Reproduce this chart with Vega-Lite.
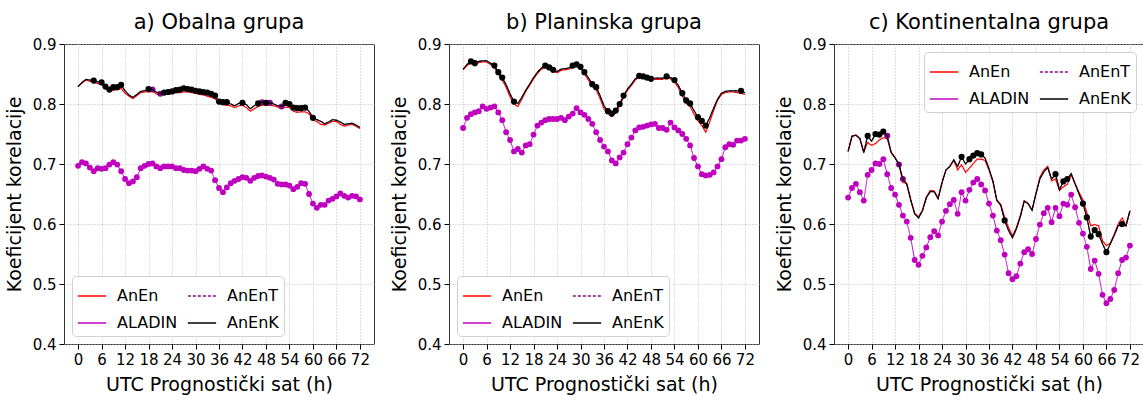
{
"$schema": "https://vega.github.io/schema/vega-lite/v6.json",
"padding": {"left": 4, "top": 11, "right": 0, "bottom": 0},
"background": "white",
"config": {
 "font": "DejaVu Sans",
 "view": {"stroke": "#333333", "strokeWidth": 1},
 "title": {"font": "DejaVu Sans", "fontSize": 21, "fontWeight": "normal", "color": "black", "offset": 4, "anchor": "middle"},
 "axis": {"labelFont": "DejaVu Sans", "titleFont": "DejaVu Sans", "labelFontSize": 15, "titleFontSize": 19, "titleFontWeight": "normal", "labelColor": "black", "titleColor": "black", "tickColor": "black", "tickSize": 5, "domain": false, "gridColor": "#b8b8b8", "gridDash": [1, 2], "gridWidth": 0.9, "labelPadding": 3, "titlePadding": 8},
 "legend": {"symbolType": "stroke", "columns": 2, "labelFont": "DejaVu Sans", "labelFontSize": 16, "labelColor": "black", "symbolSize": 800, "symbolStrokeWidth": 1.5, "strokeColor": "#d0d0d0", "fillColor": "white", "cornerRadius": 4, "padding": 5, "rowPadding": 4, "columnPadding": 6, "offset": 8, "labelOffset": 10}
},
"datasets": {
"a": [
{"h":0,"AnEnK":0.829,"AnEnT":0.829,"AnEn":0.829,"ALADIN":0.697,"sk":0,"st":0},
{"h":1,"AnEnK":0.836,"AnEnT":0.836,"AnEn":0.835,"ALADIN":0.703,"sk":0,"st":0},
{"h":2,"AnEnK":0.841,"AnEnT":0.841,"AnEn":0.840,"ALADIN":0.701,"sk":0,"st":0},
{"h":3,"AnEnK":0.840,"AnEnT":0.840,"AnEn":0.838,"ALADIN":0.694,"sk":0,"st":0},
{"h":4,"AnEnK":0.839,"AnEnT":0.839,"AnEn":0.836,"ALADIN":0.688,"sk":1,"st":0},
{"h":5,"AnEnK":0.837,"AnEnT":0.837,"AnEn":0.834,"ALADIN":0.693,"sk":0,"st":0},
{"h":6,"AnEnK":0.836,"AnEnT":0.836,"AnEn":0.833,"ALADIN":0.692,"sk":1,"st":0},
{"h":7,"AnEnK":0.829,"AnEnT":0.829,"AnEn":0.827,"ALADIN":0.693,"sk":1,"st":0},
{"h":8,"AnEnK":0.824,"AnEnT":0.824,"AnEn":0.821,"ALADIN":0.699,"sk":1,"st":0},
{"h":9,"AnEnK":0.828,"AnEnT":0.828,"AnEn":0.823,"ALADIN":0.703,"sk":1,"st":0},
{"h":10,"AnEnK":0.828,"AnEnT":0.828,"AnEn":0.824,"ALADIN":0.699,"sk":1,"st":0},
{"h":11,"AnEnK":0.832,"AnEnT":0.832,"AnEn":0.826,"ALADIN":0.688,"sk":1,"st":0},
{"h":12,"AnEnK":0.822,"AnEnT":0.822,"AnEn":0.818,"ALADIN":0.675,"sk":0,"st":0},
{"h":13,"AnEnK":0.815,"AnEnT":0.815,"AnEn":0.813,"ALADIN":0.668,"sk":0,"st":0},
{"h":14,"AnEnK":0.811,"AnEnT":0.811,"AnEn":0.809,"ALADIN":0.671,"sk":0,"st":0},
{"h":15,"AnEnK":0.816,"AnEnT":0.816,"AnEn":0.814,"ALADIN":0.678,"sk":0,"st":0},
{"h":16,"AnEnK":0.821,"AnEnT":0.821,"AnEn":0.819,"ALADIN":0.693,"sk":0,"st":0},
{"h":17,"AnEnK":0.822,"AnEnT":0.822,"AnEn":0.820,"ALADIN":0.697,"sk":0,"st":0},
{"h":18,"AnEnK":0.825,"AnEnT":0.825,"AnEn":0.820,"ALADIN":0.700,"sk":1,"st":0},
{"h":19,"AnEnK":0.824,"AnEnT":0.824,"AnEn":0.821,"ALADIN":0.701,"sk":0,"st":1},
{"h":20,"AnEnK":0.820,"AnEnT":0.820,"AnEn":0.817,"ALADIN":0.696,"sk":0,"st":0},
{"h":21,"AnEnK":0.817,"AnEnT":0.817,"AnEn":0.814,"ALADIN":0.693,"sk":0,"st":1},
{"h":22,"AnEnK":0.819,"AnEnT":0.819,"AnEn":0.817,"ALADIN":0.696,"sk":1,"st":0},
{"h":23,"AnEnK":0.820,"AnEnT":0.820,"AnEn":0.818,"ALADIN":0.696,"sk":1,"st":0},
{"h":24,"AnEnK":0.821,"AnEnT":0.821,"AnEn":0.818,"ALADIN":0.696,"sk":1,"st":0},
{"h":25,"AnEnK":0.823,"AnEnT":0.823,"AnEn":0.819,"ALADIN":0.693,"sk":1,"st":0},
{"h":26,"AnEnK":0.824,"AnEnT":0.824,"AnEn":0.819,"ALADIN":0.693,"sk":1,"st":0},
{"h":27,"AnEnK":0.826,"AnEnT":0.826,"AnEn":0.820,"ALADIN":0.690,"sk":1,"st":0},
{"h":28,"AnEnK":0.825,"AnEnT":0.825,"AnEn":0.820,"ALADIN":0.689,"sk":1,"st":0},
{"h":29,"AnEnK":0.824,"AnEnT":0.824,"AnEn":0.819,"ALADIN":0.689,"sk":1,"st":0},
{"h":30,"AnEnK":0.822,"AnEnT":0.822,"AnEn":0.818,"ALADIN":0.688,"sk":1,"st":0},
{"h":31,"AnEnK":0.821,"AnEnT":0.821,"AnEn":0.816,"ALADIN":0.692,"sk":1,"st":0},
{"h":32,"AnEnK":0.820,"AnEnT":0.820,"AnEn":0.815,"ALADIN":0.696,"sk":1,"st":0},
{"h":33,"AnEnK":0.819,"AnEnT":0.819,"AnEn":0.813,"ALADIN":0.692,"sk":1,"st":0},
{"h":34,"AnEnK":0.817,"AnEnT":0.817,"AnEn":0.811,"ALADIN":0.689,"sk":1,"st":0},
{"h":35,"AnEnK":0.814,"AnEnT":0.814,"AnEn":0.809,"ALADIN":0.673,"sk":1,"st":0},
{"h":36,"AnEnK":0.804,"AnEnT":0.804,"AnEn":0.801,"ALADIN":0.660,"sk":1,"st":0},
{"h":37,"AnEnK":0.803,"AnEnT":0.803,"AnEn":0.799,"ALADIN":0.653,"sk":1,"st":0},
{"h":38,"AnEnK":0.803,"AnEnT":0.803,"AnEn":0.798,"ALADIN":0.661,"sk":1,"st":0},
{"h":39,"AnEnK":0.800,"AnEnT":0.800,"AnEn":0.797,"ALADIN":0.668,"sk":0,"st":0},
{"h":40,"AnEnK":0.797,"AnEnT":0.797,"AnEn":0.794,"ALADIN":0.672,"sk":0,"st":0},
{"h":41,"AnEnK":0.801,"AnEnT":0.801,"AnEn":0.797,"ALADIN":0.675,"sk":0,"st":0},
{"h":42,"AnEnK":0.802,"AnEnT":0.802,"AnEn":0.798,"ALADIN":0.678,"sk":1,"st":0},
{"h":43,"AnEnK":0.799,"AnEnT":0.799,"AnEn":0.794,"ALADIN":0.677,"sk":0,"st":0},
{"h":44,"AnEnK":0.792,"AnEnT":0.792,"AnEn":0.788,"ALADIN":0.672,"sk":0,"st":0},
{"h":45,"AnEnK":0.797,"AnEnT":0.797,"AnEn":0.792,"ALADIN":0.677,"sk":0,"st":0},
{"h":46,"AnEnK":0.801,"AnEnT":0.801,"AnEn":0.796,"ALADIN":0.680,"sk":1,"st":0},
{"h":47,"AnEnK":0.803,"AnEnT":0.803,"AnEn":0.798,"ALADIN":0.681,"sk":0,"st":1},
{"h":48,"AnEnK":0.802,"AnEnT":0.802,"AnEn":0.798,"ALADIN":0.679,"sk":1,"st":0},
{"h":49,"AnEnK":0.802,"AnEnT":0.802,"AnEn":0.798,"ALADIN":0.677,"sk":0,"st":1},
{"h":50,"AnEnK":0.800,"AnEnT":0.800,"AnEn":0.797,"ALADIN":0.674,"sk":0,"st":0},
{"h":51,"AnEnK":0.797,"AnEnT":0.797,"AnEn":0.795,"ALADIN":0.667,"sk":0,"st":0},
{"h":52,"AnEnK":0.796,"AnEnT":0.796,"AnEn":0.793,"ALADIN":0.666,"sk":0,"st":1},
{"h":53,"AnEnK":0.802,"AnEnT":0.802,"AnEn":0.795,"ALADIN":0.666,"sk":1,"st":0},
{"h":54,"AnEnK":0.800,"AnEnT":0.800,"AnEn":0.794,"ALADIN":0.664,"sk":1,"st":0},
{"h":55,"AnEnK":0.794,"AnEnT":0.794,"AnEn":0.788,"ALADIN":0.658,"sk":1,"st":0},
{"h":56,"AnEnK":0.793,"AnEnT":0.793,"AnEn":0.786,"ALADIN":0.662,"sk":1,"st":0},
{"h":57,"AnEnK":0.793,"AnEnT":0.793,"AnEn":0.787,"ALADIN":0.668,"sk":1,"st":0},
{"h":58,"AnEnK":0.794,"AnEnT":0.794,"AnEn":0.787,"ALADIN":0.667,"sk":1,"st":0},
{"h":59,"AnEnK":0.788,"AnEnT":0.788,"AnEn":0.784,"ALADIN":0.650,"sk":0,"st":0},
{"h":60,"AnEnK":0.777,"AnEnT":0.777,"AnEn":0.773,"ALADIN":0.634,"sk":1,"st":0},
{"h":61,"AnEnK":0.774,"AnEnT":0.774,"AnEn":0.771,"ALADIN":0.627,"sk":0,"st":0},
{"h":62,"AnEnK":0.771,"AnEnT":0.771,"AnEn":0.766,"ALADIN":0.632,"sk":0,"st":0},
{"h":63,"AnEnK":0.767,"AnEnT":0.767,"AnEn":0.765,"ALADIN":0.632,"sk":0,"st":0},
{"h":64,"AnEnK":0.770,"AnEnT":0.770,"AnEn":0.768,"ALADIN":0.639,"sk":0,"st":0},
{"h":65,"AnEnK":0.774,"AnEnT":0.774,"AnEn":0.771,"ALADIN":0.642,"sk":0,"st":0},
{"h":66,"AnEnK":0.773,"AnEnT":0.773,"AnEn":0.771,"ALADIN":0.646,"sk":0,"st":0},
{"h":67,"AnEnK":0.770,"AnEnT":0.770,"AnEn":0.766,"ALADIN":0.651,"sk":0,"st":0},
{"h":68,"AnEnK":0.766,"AnEnT":0.766,"AnEn":0.763,"ALADIN":0.647,"sk":0,"st":0},
{"h":69,"AnEnK":0.767,"AnEnT":0.767,"AnEn":0.765,"ALADIN":0.644,"sk":0,"st":0},
{"h":70,"AnEnK":0.768,"AnEnT":0.768,"AnEn":0.766,"ALADIN":0.647,"sk":0,"st":0},
{"h":71,"AnEnK":0.765,"AnEnT":0.765,"AnEn":0.763,"ALADIN":0.646,"sk":0,"st":0},
{"h":72,"AnEnK":0.761,"AnEnT":0.761,"AnEn":0.759,"ALADIN":0.641,"sk":0,"st":0}
],
"b": [
{"h":0,"AnEnK":0.858,"AnEnT":0.858,"AnEn":0.857,"ALADIN":0.760,"sk":0,"st":0},
{"h":1,"AnEnK":0.866,"AnEnT":0.866,"AnEn":0.864,"ALADIN":0.777,"sk":0,"st":0},
{"h":2,"AnEnK":0.871,"AnEnT":0.871,"AnEn":0.869,"ALADIN":0.783,"sk":1,"st":0},
{"h":3,"AnEnK":0.868,"AnEnT":0.868,"AnEn":0.867,"ALADIN":0.786,"sk":1,"st":0},
{"h":4,"AnEnK":0.871,"AnEnT":0.871,"AnEn":0.869,"ALADIN":0.788,"sk":0,"st":0},
{"h":5,"AnEnK":0.872,"AnEnT":0.872,"AnEn":0.870,"ALADIN":0.796,"sk":0,"st":0},
{"h":6,"AnEnK":0.872,"AnEnT":0.872,"AnEn":0.870,"ALADIN":0.792,"sk":0,"st":0},
{"h":7,"AnEnK":0.868,"AnEnT":0.868,"AnEn":0.866,"ALADIN":0.794,"sk":0,"st":0},
{"h":8,"AnEnK":0.864,"AnEnT":0.864,"AnEn":0.861,"ALADIN":0.796,"sk":1,"st":0},
{"h":9,"AnEnK":0.853,"AnEnT":0.853,"AnEn":0.850,"ALADIN":0.786,"sk":1,"st":0},
{"h":10,"AnEnK":0.844,"AnEnT":0.844,"AnEn":0.840,"ALADIN":0.773,"sk":1,"st":0},
{"h":11,"AnEnK":0.832,"AnEnT":0.832,"AnEn":0.828,"ALADIN":0.753,"sk":0,"st":0},
{"h":12,"AnEnK":0.817,"AnEnT":0.817,"AnEn":0.812,"ALADIN":0.740,"sk":0,"st":0},
{"h":13,"AnEnK":0.804,"AnEnT":0.804,"AnEn":0.800,"ALADIN":0.721,"sk":1,"st":0},
{"h":14,"AnEnK":0.801,"AnEnT":0.801,"AnEn":0.796,"ALADIN":0.725,"sk":0,"st":0},
{"h":15,"AnEnK":0.811,"AnEnT":0.811,"AnEn":0.808,"ALADIN":0.719,"sk":0,"st":0},
{"h":16,"AnEnK":0.823,"AnEnT":0.823,"AnEn":0.821,"ALADIN":0.731,"sk":0,"st":0},
{"h":17,"AnEnK":0.833,"AnEnT":0.833,"AnEn":0.831,"ALADIN":0.733,"sk":0,"st":0},
{"h":18,"AnEnK":0.844,"AnEnT":0.844,"AnEn":0.842,"ALADIN":0.749,"sk":0,"st":0},
{"h":19,"AnEnK":0.853,"AnEnT":0.853,"AnEn":0.851,"ALADIN":0.764,"sk":0,"st":0},
{"h":20,"AnEnK":0.860,"AnEnT":0.860,"AnEn":0.858,"ALADIN":0.769,"sk":0,"st":0},
{"h":21,"AnEnK":0.864,"AnEnT":0.864,"AnEn":0.861,"ALADIN":0.773,"sk":1,"st":0},
{"h":22,"AnEnK":0.861,"AnEnT":0.861,"AnEn":0.858,"ALADIN":0.775,"sk":1,"st":0},
{"h":23,"AnEnK":0.857,"AnEnT":0.857,"AnEn":0.855,"ALADIN":0.775,"sk":1,"st":0},
{"h":24,"AnEnK":0.854,"AnEnT":0.854,"AnEn":0.852,"ALADIN":0.775,"sk":0,"st":0},
{"h":25,"AnEnK":0.858,"AnEnT":0.858,"AnEn":0.856,"ALADIN":0.777,"sk":0,"st":0},
{"h":26,"AnEnK":0.859,"AnEnT":0.859,"AnEn":0.857,"ALADIN":0.773,"sk":0,"st":0},
{"h":27,"AnEnK":0.860,"AnEnT":0.860,"AnEn":0.858,"ALADIN":0.779,"sk":0,"st":0},
{"h":28,"AnEnK":0.864,"AnEnT":0.864,"AnEn":0.861,"ALADIN":0.784,"sk":1,"st":0},
{"h":29,"AnEnK":0.866,"AnEnT":0.866,"AnEn":0.863,"ALADIN":0.793,"sk":1,"st":0},
{"h":30,"AnEnK":0.862,"AnEnT":0.862,"AnEn":0.860,"ALADIN":0.786,"sk":1,"st":0},
{"h":31,"AnEnK":0.853,"AnEnT":0.853,"AnEn":0.850,"ALADIN":0.782,"sk":1,"st":0},
{"h":32,"AnEnK":0.844,"AnEnT":0.844,"AnEn":0.840,"ALADIN":0.775,"sk":0,"st":0},
{"h":33,"AnEnK":0.833,"AnEnT":0.833,"AnEn":0.829,"ALADIN":0.767,"sk":1,"st":0},
{"h":34,"AnEnK":0.828,"AnEnT":0.828,"AnEn":0.824,"ALADIN":0.753,"sk":1,"st":0},
{"h":35,"AnEnK":0.814,"AnEnT":0.814,"AnEn":0.809,"ALADIN":0.740,"sk":0,"st":0},
{"h":36,"AnEnK":0.797,"AnEnT":0.797,"AnEn":0.792,"ALADIN":0.729,"sk":0,"st":0},
{"h":37,"AnEnK":0.788,"AnEnT":0.788,"AnEn":0.784,"ALADIN":0.721,"sk":1,"st":0},
{"h":38,"AnEnK":0.784,"AnEnT":0.784,"AnEn":0.779,"ALADIN":0.706,"sk":1,"st":0},
{"h":39,"AnEnK":0.789,"AnEnT":0.789,"AnEn":0.785,"ALADIN":0.701,"sk":1,"st":0},
{"h":40,"AnEnK":0.800,"AnEnT":0.800,"AnEn":0.797,"ALADIN":0.711,"sk":1,"st":0},
{"h":41,"AnEnK":0.814,"AnEnT":0.814,"AnEn":0.811,"ALADIN":0.719,"sk":1,"st":0},
{"h":42,"AnEnK":0.825,"AnEnT":0.825,"AnEn":0.823,"ALADIN":0.733,"sk":0,"st":0},
{"h":43,"AnEnK":0.833,"AnEnT":0.833,"AnEn":0.831,"ALADIN":0.744,"sk":0,"st":0},
{"h":44,"AnEnK":0.842,"AnEnT":0.842,"AnEn":0.840,"ALADIN":0.756,"sk":0,"st":0},
{"h":45,"AnEnK":0.847,"AnEnT":0.847,"AnEn":0.845,"ALADIN":0.761,"sk":1,"st":0},
{"h":46,"AnEnK":0.846,"AnEnT":0.846,"AnEn":0.844,"ALADIN":0.762,"sk":1,"st":0},
{"h":47,"AnEnK":0.844,"AnEnT":0.844,"AnEn":0.842,"ALADIN":0.764,"sk":1,"st":0},
{"h":48,"AnEnK":0.842,"AnEnT":0.842,"AnEn":0.840,"ALADIN":0.766,"sk":1,"st":0},
{"h":49,"AnEnK":0.843,"AnEnT":0.843,"AnEn":0.841,"ALADIN":0.767,"sk":0,"st":0},
{"h":50,"AnEnK":0.843,"AnEnT":0.843,"AnEn":0.841,"ALADIN":0.760,"sk":0,"st":0},
{"h":51,"AnEnK":0.843,"AnEnT":0.843,"AnEn":0.841,"ALADIN":0.760,"sk":0,"st":0},
{"h":52,"AnEnK":0.846,"AnEnT":0.846,"AnEn":0.844,"ALADIN":0.757,"sk":1,"st":0},
{"h":53,"AnEnK":0.844,"AnEnT":0.844,"AnEn":0.842,"ALADIN":0.769,"sk":0,"st":0},
{"h":54,"AnEnK":0.840,"AnEnT":0.840,"AnEn":0.837,"ALADIN":0.761,"sk":1,"st":0},
{"h":55,"AnEnK":0.831,"AnEnT":0.831,"AnEn":0.827,"ALADIN":0.756,"sk":0,"st":0},
{"h":56,"AnEnK":0.818,"AnEnT":0.818,"AnEn":0.813,"ALADIN":0.750,"sk":1,"st":0},
{"h":57,"AnEnK":0.806,"AnEnT":0.806,"AnEn":0.801,"ALADIN":0.742,"sk":1,"st":0},
{"h":58,"AnEnK":0.801,"AnEnT":0.801,"AnEn":0.796,"ALADIN":0.731,"sk":1,"st":0},
{"h":59,"AnEnK":0.789,"AnEnT":0.789,"AnEn":0.783,"ALADIN":0.710,"sk":0,"st":0},
{"h":60,"AnEnK":0.778,"AnEnT":0.778,"AnEn":0.772,"ALADIN":0.696,"sk":1,"st":0},
{"h":61,"AnEnK":0.772,"AnEnT":0.772,"AnEn":0.764,"ALADIN":0.683,"sk":1,"st":0},
{"h":62,"AnEnK":0.764,"AnEnT":0.764,"AnEn":0.753,"ALADIN":0.681,"sk":1,"st":0},
{"h":63,"AnEnK":0.777,"AnEnT":0.777,"AnEn":0.770,"ALADIN":0.682,"sk":0,"st":0},
{"h":64,"AnEnK":0.793,"AnEnT":0.793,"AnEn":0.789,"ALADIN":0.686,"sk":0,"st":0},
{"h":65,"AnEnK":0.808,"AnEnT":0.808,"AnEn":0.806,"ALADIN":0.696,"sk":0,"st":0},
{"h":66,"AnEnK":0.818,"AnEnT":0.818,"AnEn":0.816,"ALADIN":0.708,"sk":0,"st":0},
{"h":67,"AnEnK":0.821,"AnEnT":0.821,"AnEn":0.819,"ALADIN":0.728,"sk":0,"st":0},
{"h":68,"AnEnK":0.822,"AnEnT":0.822,"AnEn":0.820,"ALADIN":0.733,"sk":0,"st":0},
{"h":69,"AnEnK":0.822,"AnEnT":0.822,"AnEn":0.820,"ALADIN":0.732,"sk":0,"st":0},
{"h":70,"AnEnK":0.822,"AnEnT":0.822,"AnEn":0.819,"ALADIN":0.739,"sk":0,"st":0},
{"h":71,"AnEnK":0.822,"AnEnT":0.822,"AnEn":0.818,"ALADIN":0.739,"sk":1,"st":0},
{"h":72,"AnEnK":0.819,"AnEnT":0.819,"AnEn":0.816,"ALADIN":0.742,"sk":0,"st":0}
],
"c": [
{"h":0,"AnEnK":0.721,"AnEnT":0.721,"AnEn":0.721,"ALADIN":0.644,"sk":0,"st":0},
{"h":1,"AnEnK":0.746,"AnEnT":0.746,"AnEn":0.747,"ALADIN":0.660,"sk":0,"st":0},
{"h":2,"AnEnK":0.748,"AnEnT":0.748,"AnEn":0.748,"ALADIN":0.667,"sk":0,"st":0},
{"h":3,"AnEnK":0.743,"AnEnT":0.743,"AnEn":0.742,"ALADIN":0.653,"sk":0,"st":0},
{"h":4,"AnEnK":0.719,"AnEnT":0.719,"AnEn":0.720,"ALADIN":0.639,"sk":0,"st":0},
{"h":5,"AnEnK":0.747,"AnEnT":0.747,"AnEn":0.736,"ALADIN":0.682,"sk":1,"st":0},
{"h":6,"AnEnK":0.738,"AnEnT":0.738,"AnEn":0.731,"ALADIN":0.690,"sk":0,"st":0},
{"h":7,"AnEnK":0.750,"AnEnT":0.750,"AnEn":0.734,"ALADIN":0.701,"sk":1,"st":0},
{"h":8,"AnEnK":0.749,"AnEnT":0.749,"AnEn":0.740,"ALADIN":0.700,"sk":1,"st":0},
{"h":9,"AnEnK":0.754,"AnEnT":0.754,"AnEn":0.744,"ALADIN":0.708,"sk":1,"st":0},
{"h":10,"AnEnK":0.747,"AnEnT":0.747,"AnEn":0.742,"ALADIN":0.683,"sk":0,"st":1},
{"h":11,"AnEnK":0.719,"AnEnT":0.719,"AnEn":0.720,"ALADIN":0.660,"sk":0,"st":0},
{"h":12,"AnEnK":0.710,"AnEnT":0.710,"AnEn":0.711,"ALADIN":0.649,"sk":0,"st":0},
{"h":13,"AnEnK":0.699,"AnEnT":0.699,"AnEn":0.700,"ALADIN":0.632,"sk":0,"st":1},
{"h":14,"AnEnK":0.675,"AnEnT":0.675,"AnEn":0.669,"ALADIN":0.614,"sk":0,"st":1},
{"h":15,"AnEnK":0.666,"AnEnT":0.666,"AnEn":0.668,"ALADIN":0.604,"sk":0,"st":0},
{"h":16,"AnEnK":0.640,"AnEnT":0.640,"AnEn":0.641,"ALADIN":0.577,"sk":0,"st":0},
{"h":17,"AnEnK":0.617,"AnEnT":0.617,"AnEn":0.618,"ALADIN":0.540,"sk":0,"st":0},
{"h":18,"AnEnK":0.610,"AnEnT":0.610,"AnEn":0.612,"ALADIN":0.532,"sk":0,"st":0},
{"h":19,"AnEnK":0.622,"AnEnT":0.622,"AnEn":0.623,"ALADIN":0.547,"sk":0,"st":0},
{"h":20,"AnEnK":0.644,"AnEnT":0.644,"AnEn":0.645,"ALADIN":0.561,"sk":0,"st":0},
{"h":21,"AnEnK":0.654,"AnEnT":0.654,"AnEn":0.656,"ALADIN":0.578,"sk":0,"st":0},
{"h":22,"AnEnK":0.654,"AnEnT":0.654,"AnEn":0.655,"ALADIN":0.588,"sk":0,"st":0},
{"h":23,"AnEnK":0.642,"AnEnT":0.642,"AnEn":0.643,"ALADIN":0.581,"sk":0,"st":0},
{"h":24,"AnEnK":0.669,"AnEnT":0.669,"AnEn":0.669,"ALADIN":0.604,"sk":0,"st":0},
{"h":25,"AnEnK":0.690,"AnEnT":0.690,"AnEn":0.690,"ALADIN":0.622,"sk":0,"st":0},
{"h":26,"AnEnK":0.696,"AnEnT":0.696,"AnEn":0.696,"ALADIN":0.633,"sk":0,"st":0},
{"h":27,"AnEnK":0.707,"AnEnT":0.707,"AnEn":0.706,"ALADIN":0.640,"sk":0,"st":0},
{"h":28,"AnEnK":0.696,"AnEnT":0.696,"AnEn":0.690,"ALADIN":0.617,"sk":0,"st":0},
{"h":29,"AnEnK":0.712,"AnEnT":0.712,"AnEn":0.699,"ALADIN":0.653,"sk":1,"st":0},
{"h":30,"AnEnK":0.700,"AnEnT":0.700,"AnEn":0.686,"ALADIN":0.639,"sk":0,"st":0},
{"h":31,"AnEnK":0.708,"AnEnT":0.708,"AnEn":0.693,"ALADIN":0.657,"sk":1,"st":0},
{"h":32,"AnEnK":0.714,"AnEnT":0.714,"AnEn":0.701,"ALADIN":0.669,"sk":1,"st":0},
{"h":33,"AnEnK":0.718,"AnEnT":0.718,"AnEn":0.708,"ALADIN":0.675,"sk":1,"st":0},
{"h":34,"AnEnK":0.716,"AnEnT":0.716,"AnEn":0.708,"ALADIN":0.666,"sk":1,"st":0},
{"h":35,"AnEnK":0.710,"AnEnT":0.710,"AnEn":0.706,"ALADIN":0.656,"sk":0,"st":0},
{"h":36,"AnEnK":0.692,"AnEnT":0.692,"AnEn":0.690,"ALADIN":0.634,"sk":0,"st":0},
{"h":37,"AnEnK":0.672,"AnEnT":0.672,"AnEn":0.670,"ALADIN":0.614,"sk":0,"st":0},
{"h":38,"AnEnK":0.639,"AnEnT":0.639,"AnEn":0.640,"ALADIN":0.589,"sk":0,"st":0},
{"h":39,"AnEnK":0.631,"AnEnT":0.631,"AnEn":0.633,"ALADIN":0.573,"sk":0,"st":0},
{"h":40,"AnEnK":0.606,"AnEnT":0.606,"AnEn":0.611,"ALADIN":0.549,"sk":1,"st":0},
{"h":41,"AnEnK":0.589,"AnEnT":0.589,"AnEn":0.594,"ALADIN":0.518,"sk":0,"st":0},
{"h":42,"AnEnK":0.577,"AnEnT":0.577,"AnEn":0.580,"ALADIN":0.508,"sk":0,"st":0},
{"h":43,"AnEnK":0.592,"AnEnT":0.592,"AnEn":0.594,"ALADIN":0.513,"sk":0,"st":0},
{"h":44,"AnEnK":0.612,"AnEnT":0.612,"AnEn":0.614,"ALADIN":0.534,"sk":0,"st":0},
{"h":45,"AnEnK":0.638,"AnEnT":0.638,"AnEn":0.639,"ALADIN":0.553,"sk":0,"st":0},
{"h":46,"AnEnK":0.634,"AnEnT":0.634,"AnEn":0.634,"ALADIN":0.558,"sk":0,"st":0},
{"h":47,"AnEnK":0.623,"AnEnT":0.623,"AnEn":0.623,"ALADIN":0.550,"sk":0,"st":0},
{"h":48,"AnEnK":0.651,"AnEnT":0.651,"AnEn":0.650,"ALADIN":0.575,"sk":0,"st":0},
{"h":49,"AnEnK":0.675,"AnEnT":0.675,"AnEn":0.678,"ALADIN":0.599,"sk":0,"st":0},
{"h":50,"AnEnK":0.687,"AnEnT":0.687,"AnEn":0.690,"ALADIN":0.618,"sk":0,"st":0},
{"h":51,"AnEnK":0.694,"AnEnT":0.694,"AnEn":0.696,"ALADIN":0.627,"sk":0,"st":0},
{"h":52,"AnEnK":0.675,"AnEnT":0.675,"AnEn":0.672,"ALADIN":0.603,"sk":0,"st":0},
{"h":53,"AnEnK":0.683,"AnEnT":0.683,"AnEn":0.675,"ALADIN":0.627,"sk":1,"st":0},
{"h":54,"AnEnK":0.657,"AnEnT":0.657,"AnEn":0.656,"ALADIN":0.613,"sk":0,"st":0},
{"h":55,"AnEnK":0.671,"AnEnT":0.671,"AnEn":0.662,"ALADIN":0.634,"sk":1,"st":0},
{"h":56,"AnEnK":0.675,"AnEnT":0.675,"AnEn":0.666,"ALADIN":0.632,"sk":1,"st":0},
{"h":57,"AnEnK":0.684,"AnEnT":0.684,"AnEn":0.682,"ALADIN":0.649,"sk":0,"st":0},
{"h":58,"AnEnK":0.667,"AnEnT":0.667,"AnEn":0.667,"ALADIN":0.628,"sk":0,"st":0},
{"h":59,"AnEnK":0.650,"AnEnT":0.650,"AnEn":0.653,"ALADIN":0.602,"sk":0,"st":0},
{"h":60,"AnEnK":0.634,"AnEnT":0.634,"AnEn":0.640,"ALADIN":0.584,"sk":1,"st":0},
{"h":61,"AnEnK":0.611,"AnEnT":0.611,"AnEn":0.619,"ALADIN":0.562,"sk":1,"st":0},
{"h":62,"AnEnK":0.579,"AnEnT":0.579,"AnEn":0.597,"ALADIN":0.525,"sk":1,"st":0},
{"h":63,"AnEnK":0.590,"AnEnT":0.590,"AnEn":0.599,"ALADIN":0.539,"sk":1,"st":0},
{"h":64,"AnEnK":0.583,"AnEnT":0.583,"AnEn":0.597,"ALADIN":0.517,"sk":1,"st":0},
{"h":65,"AnEnK":0.567,"AnEnT":0.567,"AnEn":0.572,"ALADIN":0.482,"sk":0,"st":0},
{"h":66,"AnEnK":0.553,"AnEnT":0.553,"AnEn":0.564,"ALADIN":0.468,"sk":1,"st":0},
{"h":67,"AnEnK":0.567,"AnEnT":0.567,"AnEn":0.568,"ALADIN":0.475,"sk":0,"st":0},
{"h":68,"AnEnK":0.581,"AnEnT":0.581,"AnEn":0.583,"ALADIN":0.490,"sk":0,"st":0},
{"h":69,"AnEnK":0.597,"AnEnT":0.597,"AnEn":0.600,"ALADIN":0.518,"sk":0,"st":0},
{"h":70,"AnEnK":0.600,"AnEnT":0.600,"AnEn":0.610,"ALADIN":0.540,"sk":1,"st":0},
{"h":71,"AnEnK":0.597,"AnEnT":0.597,"AnEn":0.597,"ALADIN":0.544,"sk":0,"st":0},
{"h":72,"AnEnK":0.622,"AnEnT":0.622,"AnEn":0.622,"ALADIN":0.564,"sk":0,"st":0}
]
},
"spacing": 75,
"bounds": "flush",
"resolve": {"scale": {"color": "independent", "strokeDash": "independent"}, "legend": {"color": "independent", "strokeDash": "independent"}},
"hconcat": [
{
 "data": {"name": "a"}, "title": "a) Obalna grupa", "width": 310, "height": 300,
 "encoding": {"x": {"field": "h", "type": "quantitative", "scale": {"domain": [-3.6, 75.6], "nice": false, "zero": false}, "axis": {"values": [0,6,12,18,24,30,36,42,48,54,60,66,72], "title": "UTC Prognostički sat (h)"}}},
 "layer": [
  {"transform": [{"fold": ["AnEn"], "as": ["series", "value"]}], "mark": {"type": "line", "strokeWidth": 1.2},
   "encoding": {"y": {"field": "value", "type": "quantitative", "scale": {"domain": [0.4, 0.9], "nice": false, "zero": false}, "axis": {"values": [0.4,0.5,0.6,0.7,0.8,0.9], "format": ".1f", "title": "Koeficijent korelacije"}},
    "color": {"field": "series", "type": "nominal", "scale": {"domain": ["AnEn","ALADIN","AnEnT","AnEnK"], "range": ["#ff0000","#bf00bf","#8b008b","#000000"]}, "legend": {"orient": "bottom-left", "title": null}},
    "strokeDash": {"field": "series", "type": "nominal", "scale": {"domain": ["AnEn","ALADIN","AnEnT","AnEnK"], "range": [[1,0],[1,0],[3,2],[1,0]]}, "legend": {"orient": "bottom-left", "title": null}}}},
  {"transform": [{"fold": ["ALADIN"], "as": ["series", "value"]}], "mark": {"type": "line", "strokeWidth": 1},
   "encoding": {"y": {"field": "value", "type": "quantitative", "title": "Koeficijent korelacije"},
    "color": {"field": "series", "type": "nominal", "scale": {"domain": ["AnEn","ALADIN","AnEnT","AnEnK"], "range": ["#ff0000","#bf00bf","#8b008b","#000000"]}, "legend": {"orient": "bottom-left", "title": null}},
    "strokeDash": {"field": "series", "type": "nominal", "scale": {"domain": ["AnEn","ALADIN","AnEnT","AnEnK"], "range": [[1,0],[1,0],[3,2],[1,0]]}, "legend": {"orient": "bottom-left", "title": null}}}},
  {"mark": {"type": "circle", "size": 34, "color": "#bf00bf", "opacity": 1}, "encoding": {"y": {"field": "ALADIN", "type": "quantitative", "title": "Koeficijent korelacije"}}},
  {"transform": [{"fold": ["AnEnT"], "as": ["series", "value"]}], "mark": {"type": "line", "strokeWidth": 1},
   "encoding": {"y": {"field": "value", "type": "quantitative", "title": "Koeficijent korelacije"},
    "color": {"field": "series", "type": "nominal", "scale": {"domain": ["AnEn","ALADIN","AnEnT","AnEnK"], "range": ["#ff0000","#bf00bf","#8b008b","#000000"]}, "legend": {"orient": "bottom-left", "title": null}},
    "strokeDash": {"field": "series", "type": "nominal", "scale": {"domain": ["AnEn","ALADIN","AnEnT","AnEnK"], "range": [[1,0],[1,0],[3,2],[1,0]]}, "legend": {"orient": "bottom-left", "title": null}}}},
  {"transform": [{"filter": "datum.st == 1"}], "mark": {"type": "circle", "size": 36, "color": "#900090", "opacity": 1}, "encoding": {"y": {"field": "AnEnT", "type": "quantitative", "title": "Koeficijent korelacije"}}},
  {"transform": [{"fold": ["AnEnK"], "as": ["series", "value"]}], "mark": {"type": "line", "strokeWidth": 1.2},
   "encoding": {"y": {"field": "value", "type": "quantitative", "title": "Koeficijent korelacije"},
    "color": {"field": "series", "type": "nominal", "scale": {"domain": ["AnEn","ALADIN","AnEnT","AnEnK"], "range": ["#ff0000","#bf00bf","#8b008b","#000000"]}, "legend": {"orient": "bottom-left", "title": null}},
    "strokeDash": {"field": "series", "type": "nominal", "scale": {"domain": ["AnEn","ALADIN","AnEnT","AnEnK"], "range": [[1,0],[1,0],[3,2],[1,0]]}, "legend": {"orient": "bottom-left", "title": null}}}},
  {"transform": [{"filter": "datum.sk == 1"}], "mark": {"type": "circle", "size": 38, "color": "#000000", "opacity": 1}, "encoding": {"y": {"field": "AnEnK", "type": "quantitative", "title": "Koeficijent korelacije"}}}
 ]
},
{
 "data": {"name": "b"}, "title": "b) Planinska grupa", "width": 310, "height": 300,
 "encoding": {"x": {"field": "h", "type": "quantitative", "scale": {"domain": [-3.6, 75.6], "nice": false, "zero": false}, "axis": {"values": [0,6,12,18,24,30,36,42,48,54,60,66,72], "title": "UTC Prognostički sat (h)"}}},
 "layer": [
  {"transform": [{"fold": ["AnEn"], "as": ["series", "value"]}], "mark": {"type": "line", "strokeWidth": 1.2},
   "encoding": {"y": {"field": "value", "type": "quantitative", "scale": {"domain": [0.4, 0.9], "nice": false, "zero": false}, "axis": {"values": [0.4,0.5,0.6,0.7,0.8,0.9], "format": ".1f", "title": "Koeficijent korelacije"}},
    "color": {"field": "series", "type": "nominal", "scale": {"domain": ["AnEn","ALADIN","AnEnT","AnEnK"], "range": ["#ff0000","#bf00bf","#8b008b","#000000"]}, "legend": {"orient": "bottom-left", "title": null}},
    "strokeDash": {"field": "series", "type": "nominal", "scale": {"domain": ["AnEn","ALADIN","AnEnT","AnEnK"], "range": [[1,0],[1,0],[3,2],[1,0]]}, "legend": {"orient": "bottom-left", "title": null}}}},
  {"transform": [{"fold": ["ALADIN"], "as": ["series", "value"]}], "mark": {"type": "line", "strokeWidth": 1},
   "encoding": {"y": {"field": "value", "type": "quantitative", "title": "Koeficijent korelacije"},
    "color": {"field": "series", "type": "nominal", "scale": {"domain": ["AnEn","ALADIN","AnEnT","AnEnK"], "range": ["#ff0000","#bf00bf","#8b008b","#000000"]}, "legend": {"orient": "bottom-left", "title": null}},
    "strokeDash": {"field": "series", "type": "nominal", "scale": {"domain": ["AnEn","ALADIN","AnEnT","AnEnK"], "range": [[1,0],[1,0],[3,2],[1,0]]}, "legend": {"orient": "bottom-left", "title": null}}}},
  {"mark": {"type": "circle", "size": 34, "color": "#bf00bf", "opacity": 1}, "encoding": {"y": {"field": "ALADIN", "type": "quantitative", "title": "Koeficijent korelacije"}}},
  {"transform": [{"fold": ["AnEnT"], "as": ["series", "value"]}], "mark": {"type": "line", "strokeWidth": 1},
   "encoding": {"y": {"field": "value", "type": "quantitative", "title": "Koeficijent korelacije"},
    "color": {"field": "series", "type": "nominal", "scale": {"domain": ["AnEn","ALADIN","AnEnT","AnEnK"], "range": ["#ff0000","#bf00bf","#8b008b","#000000"]}, "legend": {"orient": "bottom-left", "title": null}},
    "strokeDash": {"field": "series", "type": "nominal", "scale": {"domain": ["AnEn","ALADIN","AnEnT","AnEnK"], "range": [[1,0],[1,0],[3,2],[1,0]]}, "legend": {"orient": "bottom-left", "title": null}}}},
  {"transform": [{"filter": "datum.st == 1"}], "mark": {"type": "circle", "size": 36, "color": "#900090", "opacity": 1}, "encoding": {"y": {"field": "AnEnT", "type": "quantitative", "title": "Koeficijent korelacije"}}},
  {"transform": [{"fold": ["AnEnK"], "as": ["series", "value"]}], "mark": {"type": "line", "strokeWidth": 1.2},
   "encoding": {"y": {"field": "value", "type": "quantitative", "title": "Koeficijent korelacije"},
    "color": {"field": "series", "type": "nominal", "scale": {"domain": ["AnEn","ALADIN","AnEnT","AnEnK"], "range": ["#ff0000","#bf00bf","#8b008b","#000000"]}, "legend": {"orient": "bottom-left", "title": null}},
    "strokeDash": {"field": "series", "type": "nominal", "scale": {"domain": ["AnEn","ALADIN","AnEnT","AnEnK"], "range": [[1,0],[1,0],[3,2],[1,0]]}, "legend": {"orient": "bottom-left", "title": null}}}},
  {"transform": [{"filter": "datum.sk == 1"}], "mark": {"type": "circle", "size": 38, "color": "#000000", "opacity": 1}, "encoding": {"y": {"field": "AnEnK", "type": "quantitative", "title": "Koeficijent korelacije"}}}
 ]
},
{
 "data": {"name": "c"}, "title": "c) Kontinentalna grupa", "width": 310, "height": 300,
 "encoding": {"x": {"field": "h", "type": "quantitative", "scale": {"domain": [-3.6, 75.6], "nice": false, "zero": false}, "axis": {"values": [0,6,12,18,24,30,36,42,48,54,60,66,72], "title": "UTC Prognostički sat (h)"}}},
 "layer": [
  {"transform": [{"fold": ["AnEn"], "as": ["series", "value"]}], "mark": {"type": "line", "strokeWidth": 1.2},
   "encoding": {"y": {"field": "value", "type": "quantitative", "scale": {"domain": [0.4, 0.9], "nice": false, "zero": false}, "axis": {"values": [0.4,0.5,0.6,0.7,0.8,0.9], "format": ".1f", "title": "Koeficijent korelacije"}},
    "color": {"field": "series", "type": "nominal", "scale": {"domain": ["AnEn","ALADIN","AnEnT","AnEnK"], "range": ["#ff0000","#bf00bf","#8b008b","#000000"]}, "legend": {"orient": "top-right", "title": null}},
    "strokeDash": {"field": "series", "type": "nominal", "scale": {"domain": ["AnEn","ALADIN","AnEnT","AnEnK"], "range": [[1,0],[1,0],[3,2],[1,0]]}, "legend": {"orient": "top-right", "title": null}}}},
  {"transform": [{"fold": ["ALADIN"], "as": ["series", "value"]}], "mark": {"type": "line", "strokeWidth": 1},
   "encoding": {"y": {"field": "value", "type": "quantitative", "title": "Koeficijent korelacije"},
    "color": {"field": "series", "type": "nominal", "scale": {"domain": ["AnEn","ALADIN","AnEnT","AnEnK"], "range": ["#ff0000","#bf00bf","#8b008b","#000000"]}, "legend": {"orient": "top-right", "title": null}},
    "strokeDash": {"field": "series", "type": "nominal", "scale": {"domain": ["AnEn","ALADIN","AnEnT","AnEnK"], "range": [[1,0],[1,0],[3,2],[1,0]]}, "legend": {"orient": "top-right", "title": null}}}},
  {"mark": {"type": "circle", "size": 34, "color": "#bf00bf", "opacity": 1}, "encoding": {"y": {"field": "ALADIN", "type": "quantitative", "title": "Koeficijent korelacije"}}},
  {"transform": [{"fold": ["AnEnT"], "as": ["series", "value"]}], "mark": {"type": "line", "strokeWidth": 1},
   "encoding": {"y": {"field": "value", "type": "quantitative", "title": "Koeficijent korelacije"},
    "color": {"field": "series", "type": "nominal", "scale": {"domain": ["AnEn","ALADIN","AnEnT","AnEnK"], "range": ["#ff0000","#bf00bf","#8b008b","#000000"]}, "legend": {"orient": "top-right", "title": null}},
    "strokeDash": {"field": "series", "type": "nominal", "scale": {"domain": ["AnEn","ALADIN","AnEnT","AnEnK"], "range": [[1,0],[1,0],[3,2],[1,0]]}, "legend": {"orient": "top-right", "title": null}}}},
  {"transform": [{"filter": "datum.st == 1"}], "mark": {"type": "circle", "size": 36, "color": "#900090", "opacity": 1}, "encoding": {"y": {"field": "AnEnT", "type": "quantitative", "title": "Koeficijent korelacije"}}},
  {"transform": [{"fold": ["AnEnK"], "as": ["series", "value"]}], "mark": {"type": "line", "strokeWidth": 1.2},
   "encoding": {"y": {"field": "value", "type": "quantitative", "title": "Koeficijent korelacije"},
    "color": {"field": "series", "type": "nominal", "scale": {"domain": ["AnEn","ALADIN","AnEnT","AnEnK"], "range": ["#ff0000","#bf00bf","#8b008b","#000000"]}, "legend": {"orient": "top-right", "title": null}},
    "strokeDash": {"field": "series", "type": "nominal", "scale": {"domain": ["AnEn","ALADIN","AnEnT","AnEnK"], "range": [[1,0],[1,0],[3,2],[1,0]]}, "legend": {"orient": "top-right", "title": null}}}},
  {"transform": [{"filter": "datum.sk == 1"}], "mark": {"type": "circle", "size": 38, "color": "#000000", "opacity": 1}, "encoding": {"y": {"field": "AnEnK", "type": "quantitative", "title": "Koeficijent korelacije"}}}
 ]
}
]
}
